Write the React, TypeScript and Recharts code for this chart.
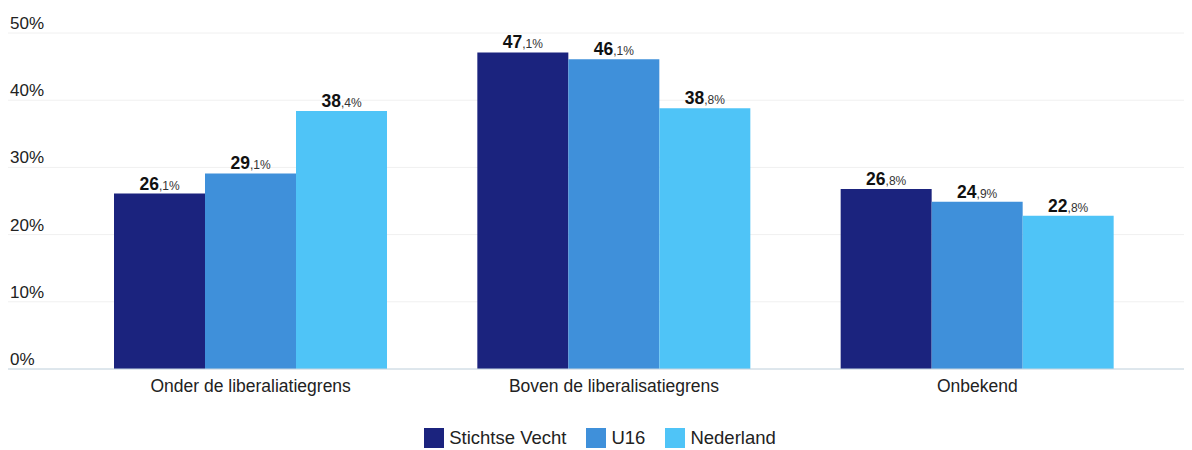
import { BarChart, Bar, XAxis, YAxis, CartesianGrid, Legend, LabelList } from "recharts";

const categories = ["Onder de liberaliatiegrens", "Boven de liberalisatiegrens", "Onbekend"];
const stichtseVecht = [26.1, 47.1, 26.8];
const u16 = [29.1, 46.1, 24.9];
const nederland = [38.4, 38.8, 22.8];
const yTicks = [0, 10, 20, 30, 40, 50];

const series = [
  { key: "stichtse", name: "Stichtse Vecht", color: "#1b237e" },
  { key: "u16", name: "U16", color: "#3f90da" },
  { key: "nl", name: "Nederland", color: "#4fc4f7" },
];

const FONT = "'Liberation Sans', Arial, sans-serif";

function ValueLabel(props: any) {
  const { x, y, width, value } = props;
  const [whole, frac] = Number(value).toFixed(1).split(".");
  return (
    <text x={x + width / 2} y={y - 4} textAnchor="middle" fontFamily={FONT} fill="#111">
      <tspan fontSize={17.5} fontWeight="bold">{whole}</tspan>
      <tspan fontSize={12} fill="#333">,{frac}%</tspan>
    </text>
  );
}

function YTick(props: any) {
  const { y, payload } = props;
  return (
    <text x={2} y={y - 4} fontSize={17} fontFamily={FONT} fill="#222">
      {payload.value}%
    </text>
  );
}

function XTick(props: any) {
  const { x, payload } = props;
  return (
    <text x={x} y={384} textAnchor="middle" fontSize={17.5} fontFamily={FONT} fill="#222">
      {payload.value}
    </text>
  );
}

function LegendContent() {
  return (
    <div style={{ height: 46, display: "flex", alignItems: "flex-end", justifyContent: "center", fontFamily: FONT, fontSize: 18.5, color: "#222" }}>
      {series.map(s => (
        <div key={s.key} style={{ display: "flex", alignItems: "center", margin: "0 10px", position: "relative", top: 4 }}>
          <span style={{ width: 20, height: 20, background: s.color, display: "inline-block", marginRight: 5 }} />
          <span>{s.name}</span>
        </div>
      ))}
    </div>
  );
}

export default function App() {
  const data = categories.map((c, i) => ({ name: c, stichtse: stichtseVecht[i], u16: u16[i], nl: nederland[i] }));
  return (
    <BarChart width={1184} height={442} data={data} margin={{ top: 25, right: 0, left: 0, bottom: 5 }} barCategoryGap={45} barGap={0}>
      <CartesianGrid vertical={false} stroke="#f0f0f0" />
      <XAxis dataKey="name" height={30} padding={{ left: 61, right: 33 }} tickLine={false} axisLine={{ stroke: "#c5d6e2" }} tick={<XTick />} interval={0} />
      <YAxis mirror width={60} domain={[0, 50]} ticks={yTicks} axisLine={false} tickLine={false} tick={<YTick />} />
      <Legend verticalAlign="bottom" content={<LegendContent />} />
      {series.map(s => (
        <Bar key={s.key} dataKey={s.key} name={s.name} fill={s.color} isAnimationActive={false}>
          <LabelList dataKey={s.key} content={<ValueLabel />} />
        </Bar>
      ))}
    </BarChart>
  );
}
